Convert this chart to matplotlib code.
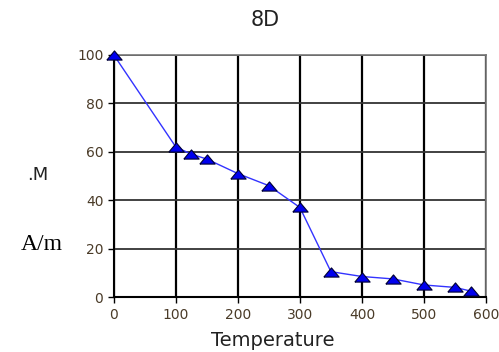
import numpy as np
import matplotlib.pyplot as plt

# temperature vs magnetisation, sample 8D
temperature = [0, 100, 125, 150, 200, 250, 300, 350, 400, 450, 500, 550, 575]
magnet = [100, 62, 59, 57, 51, 46, 37, 10.5, 8.5, 7.5, 5, 4, 2.5]
xticks = [0, 100, 200, 300, 400, 500, 600]
yticks = [0, 20, 40, 60, 80, 100]

# wide flat triangle like the original software draws
tri = [(-1.0, -0.6), (1.0, -0.6), (0.0, 0.6), (-1.0, -0.6)]

fig = plt.figure(figsize=(4.99, 3.52), dpi=100)
ax = fig.add_axes([0.228, 0.156, 0.746, 0.688])

ax.plot(temperature, magnet, color='#3333ff', lw=1, marker=tri, ms=11,
        markerfacecolor='#0000ee', markeredgecolor='#000033', markeredgewidth=0.8,
        zorder=5, clip_on=False)

ax.set_xlim(0, 600)
ax.set_ylim(0, 100)
ax.set_xticks(xticks)
ax.set_yticks(yticks)
ax.grid(True, axis='x', color='black', lw=1.6)
ax.grid(True, axis='y', color='#333333', lw=1.3)
ax.set_axisbelow(True)
for s in ['left', 'bottom']:
    ax.spines[s].set_color('black')
    ax.spines[s].set_linewidth(1.5)
for s in ['top', 'right']:
    ax.spines[s].set_color('#777777')
    ax.spines[s].set_linewidth(1.2)
ax.tick_params(axis='both', labelsize=10, labelcolor='#4a3b28', length=4, width=1)
ax.tick_params(axis='x', pad=4)

fig.text(0.531, 0.943, '8D', fontsize=15, color='#222222', ha='center', va='center')
fig.text(0.547, 0.033, 'Temperature', fontsize=14, color='#222222', ha='center', va='center')
fig.text(0.076, 0.503, '.M', fontsize=13, color='#222222', ha='center', va='center')
fig.text(0.084, 0.304, 'A/m', fontsize=17, family='Liberation Serif', color='black',
         ha='center', va='center')

plt.savefig('out.png')
